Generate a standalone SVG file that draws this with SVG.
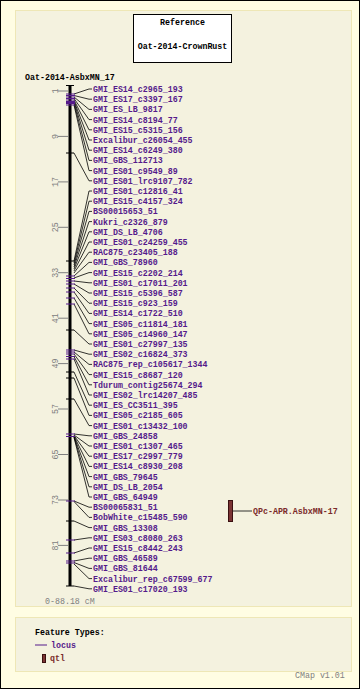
<svg xmlns="http://www.w3.org/2000/svg" width="360" height="689" viewBox="0 0 360 689">
<style>
text{font-family:"Liberation Mono","DejaVu Sans Mono",monospace;font-size:8.3px;font-weight:bold}
.lbl{fill:#551a8b}
.blk{fill:#000}
.gry{fill:#808080;font-weight:normal}
.qt{fill:#7a2a2a}
.tk{stroke:#551a8b;stroke-width:1}
.tb{stroke:#000;stroke-width:1}
.sc{stroke:#808080;stroke-width:1}
.con polyline{fill:none;stroke:#000;stroke-width:0.8}
</style>
<rect x="0.5" y="0.5" width="359" height="688" fill="#fffde3" stroke="#000"/>
<rect x="15.5" y="10.5" width="336" height="596" fill="#f4f2df" stroke="#eee7b6"/>
<rect x="15.5" y="617.5" width="336" height="54" fill="#f4f2df" stroke="#eee7b6"/>
<g id="reference">
<rect x="133.5" y="14.5" width="98" height="48" fill="#fff" stroke="#000"/>
<text x="182.5" y="25" text-anchor="middle" class="blk">Reference</text>
<text x="182.5" y="49" text-anchor="middle" class="blk">Oat-2014-CrownRust</text>
</g>
<g id="map">
<text x="25" y="80" class="blk">Oat-2014-AsbxMN_17</text>
<line x1="70" y1="85.5" x2="70" y2="586" stroke="#000" stroke-width="3"/>
<line x1="66" y1="85.5" x2="74" y2="85.5" class="tb"/>
<line x1="66" y1="586" x2="74" y2="586" class="tb"/>
<g id="scale">
<line x1="58" y1="91" x2="68" y2="91" class="sc"/><text transform="translate(57.5,91) rotate(-90)" text-anchor="middle" class="gry">1</text>
<line x1="58" y1="136.4" x2="68" y2="136.4" class="sc"/><text transform="translate(57.5,136.4) rotate(-90)" text-anchor="middle" class="gry">9</text>
<line x1="58" y1="181.9" x2="68" y2="181.9" class="sc"/><text transform="translate(57.5,181.9) rotate(-90)" text-anchor="middle" class="gry">17</text>
<line x1="58" y1="227.3" x2="68" y2="227.3" class="sc"/><text transform="translate(57.5,227.3) rotate(-90)" text-anchor="middle" class="gry">25</text>
<line x1="58" y1="272.7" x2="68" y2="272.7" class="sc"/><text transform="translate(57.5,272.7) rotate(-90)" text-anchor="middle" class="gry">33</text>
<line x1="58" y1="318.2" x2="68" y2="318.2" class="sc"/><text transform="translate(57.5,318.2) rotate(-90)" text-anchor="middle" class="gry">41</text>
<line x1="58" y1="363.6" x2="68" y2="363.6" class="sc"/><text transform="translate(57.5,363.6) rotate(-90)" text-anchor="middle" class="gry">49</text>
<line x1="58" y1="409" x2="68" y2="409" class="sc"/><text transform="translate(57.5,409) rotate(-90)" text-anchor="middle" class="gry">57</text>
<line x1="58" y1="454.5" x2="68" y2="454.5" class="sc"/><text transform="translate(57.5,454.5) rotate(-90)" text-anchor="middle" class="gry">65</text>
<line x1="58" y1="500" x2="68" y2="500" class="sc"/><text transform="translate(57.5,500) rotate(-90)" text-anchor="middle" class="gry">73</text>
<line x1="58" y1="545.4" x2="68" y2="545.4" class="sc"/><text transform="translate(57.5,545.4) rotate(-90)" text-anchor="middle" class="gry">81</text>
</g>
<text x="45" y="604" class="gry">0-88.18 cM</text>
</g>
<g id="connectors" class="con">
<polyline points="74,94 89,89 92,89"/>
<polyline points="74,95.5 89,99.2 92,99.2"/>
<polyline points="74,97 89,109.4 92,109.4"/>
<polyline points="74,98.5 89,119.6 92,119.6"/>
<polyline points="74,100 89,129.8 92,129.8"/>
<polyline points="74,101 89,140 92,140"/>
<polyline points="74,102 89,150.2 92,150.2"/>
<polyline points="74,103.5 89,160.4 92,160.4"/>
<polyline points="74,105 89,170.6 92,170.6"/>
<polyline points="74,153 89,180.8 92,180.8"/>
<polyline points="74,261 89,191 92,191"/>
<polyline points="74,263 89,201.2 92,201.2"/>
<polyline points="74,265 89,211.4 92,211.4"/>
<polyline points="74,267 89,221.6 92,221.6"/>
<polyline points="74,269 89,231.8 92,231.8"/>
<polyline points="74,271 89,242 92,242"/>
<polyline points="74,273 89,252.2 92,252.2"/>
<polyline points="74,276 89,262.4 92,262.4"/>
<polyline points="74,278 89,272.6 92,272.6"/>
<polyline points="74,281 89,282.8 92,282.8"/>
<polyline points="74,284 89,293 92,293"/>
<polyline points="74,288 89,303.2 92,303.2"/>
<polyline points="74,292 89,313.4 92,313.4"/>
<polyline points="74,298 89,323.6 92,323.6"/>
<polyline points="74,304 89,333.8 92,333.8"/>
<polyline points="74,330 89,344 92,344"/>
<polyline points="74,350 89,354.2 92,354.2"/>
<polyline points="74,352 89,364.4 92,364.4"/>
<polyline points="74,354 89,374.6 92,374.6"/>
<polyline points="74,356.5 89,384.8 92,384.8"/>
<polyline points="74,359 89,395 92,395"/>
<polyline points="74,372 89,405.2 92,405.2"/>
<polyline points="74,378 89,415.4 92,415.4"/>
<polyline points="74,399 89,425.6 92,425.6"/>
<polyline points="74,434 89,435.8 92,435.8"/>
<polyline points="74,435 89,446 92,446"/>
<polyline points="74,435.5 89,456.2 92,456.2"/>
<polyline points="74,436 89,466.4 92,466.4"/>
<polyline points="74,436.5 89,476.6 92,476.6"/>
<polyline points="74,437 89,486.8 92,486.8"/>
<polyline points="74,437.5 89,497 92,497"/>
<polyline points="74,501 89,507.2 92,507.2"/>
<polyline points="74,501.5 89,517.4 92,517.4"/>
<polyline points="74,521 89,527.6 92,527.6"/>
<polyline points="74,540 89,537.8 92,537.8"/>
<polyline points="74,553 89,548 92,548"/>
<polyline points="74,561 89,558.2 92,558.2"/>
<polyline points="74,562.5 89,568.4 92,568.4"/>
<polyline points="74,564 89,578.6 92,578.6"/>
<polyline points="74,586 89,588.8 92,588.8"/>
<polyline points="233,511 252,511"/>
</g>
<g id="features">
<g id="f1"><line x1="66" y1="94" x2="75" y2="94" class="tk"/><text x="93" y="92" class="lbl">GMI_ES14_c2965_193</text></g>
<g id="f2"><line x1="66" y1="95.5" x2="75" y2="95.5" class="tk"/><text x="93" y="102.2" class="lbl">GMI_ES17_c3397_167</text></g>
<g id="f3"><line x1="66" y1="97" x2="75" y2="97" class="tk"/><text x="93" y="112.4" class="lbl">GMI_ES_LB_9817</text></g>
<g id="f4"><line x1="66" y1="98.5" x2="75" y2="98.5" class="tk"/><text x="93" y="122.6" class="lbl">GMI_ES14_c8194_77</text></g>
<g id="f5"><line x1="66" y1="100" x2="75" y2="100" class="tk"/><text x="93" y="132.8" class="lbl">GMI_ES15_c5315_156</text></g>
<g id="f6"><line x1="66" y1="101.5" x2="75" y2="101.5" class="tk"/><text x="93" y="143" class="lbl">Excalibur_c26054_455</text></g>
<g id="f7"><line x1="66" y1="102.5" x2="75" y2="102.5" class="tk"/><text x="93" y="153.2" class="lbl">GMI_ES14_c6249_380</text></g>
<g id="f8"><line x1="66" y1="103.5" x2="75" y2="103.5" class="tk"/><text x="93" y="163.4" class="lbl">GMI_GBS_112713</text></g>
<g id="f9"><line x1="66" y1="105" x2="75" y2="105" class="tk"/><text x="93" y="173.6" class="lbl">GMI_ES01_c9549_89</text></g>
<g id="f10"><line x1="66" y1="153" x2="74" y2="153" class="tb"/><text x="93" y="183.8" class="lbl">GMI_ES01_lrc9107_782</text></g>
<g id="f11"><line x1="66" y1="261" x2="74" y2="261" class="tb"/><text x="93" y="194" class="lbl">GMI_ES01_c12816_41</text></g>
<g id="f12"><text x="93" y="204.2" class="lbl">GMI_ES15_c4157_324</text></g>
<g id="f13"><text x="93" y="214.4" class="lbl">BS00015653_51</text></g>
<g id="f14"><text x="93" y="224.6" class="lbl">Kukri_c2326_879</text></g>
<g id="f15"><text x="93" y="234.8" class="lbl">GMI_DS_LB_4706</text></g>
<g id="f16"><text x="93" y="245" class="lbl">GMI_ES01_c24259_455</text></g>
<g id="f17"><text x="93" y="255.2" class="lbl">RAC875_c23405_188</text></g>
<g id="f18"><line x1="66" y1="276" x2="75" y2="276" class="tk"/><text x="93" y="265.4" class="lbl">GMI_GBS_78960</text></g>
<g id="f19"><line x1="66" y1="278.5" x2="75" y2="278.5" class="tk"/><text x="93" y="275.6" class="lbl">GMI_ES15_c2202_214</text></g>
<g id="f20"><line x1="66" y1="281" x2="75" y2="281" class="tk"/><text x="93" y="285.8" class="lbl">GMI_ES01_c17011_201</text></g>
<g id="f21"><line x1="66" y1="284" x2="75" y2="284" class="tk"/><text x="93" y="296" class="lbl">GMI_ES15_c5396_587</text></g>
<g id="f22"><line x1="66" y1="288" x2="75" y2="288" class="tk"/><text x="93" y="306.2" class="lbl">GMI_ES15_c923_159</text></g>
<g id="f23"><line x1="66" y1="292" x2="75" y2="292" class="tk"/><text x="93" y="316.4" class="lbl">GMI_ES14_c1722_510</text></g>
<g id="f24"><line x1="66" y1="298" x2="75" y2="298" class="tk"/><text x="93" y="326.6" class="lbl">GMI_ES05_c11814_181</text></g>
<g id="f25"><line x1="66" y1="304" x2="75" y2="304" class="tk"/><text x="93" y="336.8" class="lbl">GMI_ES05_c14960_147</text></g>
<g id="f26"><line x1="66" y1="330" x2="74" y2="330" class="tb"/><text x="93" y="347" class="lbl">GMI_ES01_c27997_135</text></g>
<g id="f27"><line x1="66" y1="350" x2="75" y2="350" class="tk"/><text x="93" y="357.2" class="lbl">GMI_ES02_c16824_373</text></g>
<g id="f28"><line x1="66" y1="352" x2="75" y2="352" class="tk"/><text x="93" y="367.4" class="lbl">RAC875_rep_c105617_1344</text></g>
<g id="f29"><line x1="66" y1="354" x2="75" y2="354" class="tk"/><text x="93" y="377.6" class="lbl">GMI_ES15_c8687_120</text></g>
<g id="f30"><line x1="66" y1="356.5" x2="75" y2="356.5" class="tk"/><text x="93" y="387.8" class="lbl">Tdurum_contig25674_294</text></g>
<g id="f31"><line x1="66" y1="359" x2="75" y2="359" class="tk"/><text x="93" y="398" class="lbl">GMI_ES02_lrc14207_485</text></g>
<g id="f32"><line x1="66" y1="372" x2="74" y2="372" class="tb"/><text x="93" y="408.2" class="lbl">GMI_ES_CC3511_395</text></g>
<g id="f33"><line x1="66" y1="378" x2="74" y2="378" class="tb"/><text x="93" y="418.4" class="lbl">GMI_ES05_c2185_605</text></g>
<g id="f34"><line x1="66" y1="399" x2="74" y2="399" class="tb"/><text x="93" y="428.6" class="lbl">GMI_ES01_c13432_100</text></g>
<g id="f35"><line x1="66" y1="434" x2="75" y2="434" class="tk"/><text x="93" y="438.8" class="lbl">GMI_GBS_24858</text></g>
<g id="f36"><text x="93" y="449" class="lbl">GMI_ES01_c1307_465</text></g>
<g id="f37"><line x1="66" y1="436.5" x2="75" y2="436.5" class="tk"/><text x="93" y="459.2" class="lbl">GMI_ES17_c2997_779</text></g>
<g id="f38"><text x="93" y="469.4" class="lbl">GMI_ES14_c8930_208</text></g>
<g id="f39"><text x="93" y="479.6" class="lbl">GMI_GBS_79645</text></g>
<g id="f40"><text x="93" y="489.8" class="lbl">GMI_DS_LB_2054</text></g>
<g id="f41"><text x="93" y="500" class="lbl">GMI_GBS_64949</text></g>
<g id="f42"><line x1="66" y1="501" x2="75" y2="501" class="tk" stroke-width="1.5"/><text x="93" y="510.2" class="lbl">BS00065831_51</text></g>
<g id="f43"><text x="93" y="520.4" class="lbl">BobWhite_c15485_590</text></g>
<g id="f44"><line x1="66" y1="521" x2="74" y2="521" class="tb"/><text x="93" y="530.6" class="lbl">GMI_GBS_13308</text></g>
<g id="f45"><line x1="66" y1="540" x2="75" y2="540" class="tk"/><text x="93" y="540.8" class="lbl">GMI_ES03_c8080_263</text></g>
<g id="f46"><line x1="66" y1="553" x2="75" y2="553" class="tk"/><text x="93" y="551" class="lbl">GMI_ES15_c8442_243</text></g>
<g id="f47"><line x1="66" y1="561" x2="75" y2="561" class="tk"/><text x="93" y="561.2" class="lbl">GMI_GBS_46589</text></g>
<g id="f48"><line x1="66" y1="563" x2="75" y2="563" class="tk"/><text x="93" y="571.4" class="lbl">GMI_GBS_81644</text></g>
<g id="f49"><text x="93" y="581.6" class="lbl">Excalibur_rep_c67599_677</text></g>
<g id="f50"><text x="93" y="591.8" class="lbl">GMI_ES01_c17020_193</text></g>
</g>
<g id="qtl">
<rect x="228.5" y="500.5" width="4" height="21" fill="#7b3434" stroke="#3a1010"/>
<text x="253" y="514" class="qt">QPc-APR.AsbxMN-17</text>
</g>
<g id="legend">
<text x="35" y="635" class="blk">Feature Types:</text>
<line x1="35" y1="645" x2="47" y2="645" stroke="#551a8b" stroke-width="1"/>
<text x="51" y="648" class="lbl">locus</text>
<rect x="42.5" y="654.5" width="3" height="8" fill="#7b3434" stroke="#3a1010"/>
<text x="50" y="661" class="qt">qtl</text>
<text x="295" y="678" class="gry">CMap v1.01</text>
</g>
</svg>
